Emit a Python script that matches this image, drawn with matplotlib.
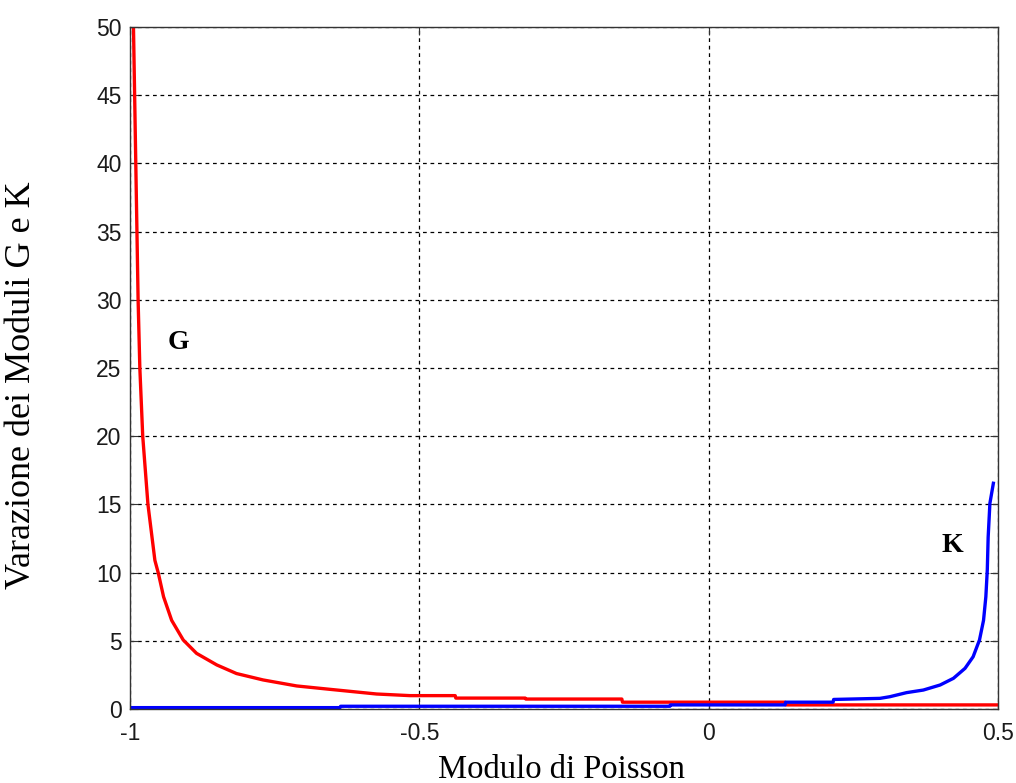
import matplotlib.pyplot as plt

# valori
g_x = [-0.994, -0.992, -0.990, -0.988, -0.986, -0.983, -0.978, -0.969, -0.957, -0.951,
       -0.942, -0.928, -0.908, -0.885, -0.850, -0.816, -0.770, -0.712, -0.654, -0.574,
       -0.516, -0.438, -0.437, -0.317, -0.316, -0.150, -0.149, 0.132, 0.133, 0.50]
g_y = [50, 45, 40, 35, 30, 25, 20, 15, 10.9, 9.95,
       8.23, 6.5, 5.06, 4.08, 3.23, 2.6, 2.13, 1.69, 1.44, 1.1,
       0.98, 0.98, 0.8, 0.8, 0.73, 0.73, 0.5, 0.5, 0.3, 0.3]

k_x = [-1.0, -0.637, -0.636, -0.067, -0.066, 0.132, 0.133, 0.215, 0.216, 0.296, 0.313,
       0.342, 0.371, 0.400, 0.423, 0.443, 0.457, 0.468, 0.475, 0.479, 0.4815, 0.483,
       0.486, 0.492]
k_y = [0.1, 0.1, 0.2, 0.2, 0.3, 0.3, 0.5, 0.5, 0.7, 0.78, 0.9,
       1.2, 1.39, 1.76, 2.25, 2.98, 3.83, 5.06, 6.5, 8.23, 10.2, 12.6,
       15.08, 16.55]

x_ticks = [-1, -0.5, 0, 0.5]
x_tick_labels = ['-1', '-0.5', '0', '0.5']
y_ticks = [0, 5, 10, 15, 20, 25, 30, 35, 40, 45, 50]

fig = plt.figure(figsize=(10.16, 7.83), dpi=100)
ax = fig.add_axes([130 / 1016, 74 / 783, 868 / 1016, 682 / 783])

ax.plot(g_x, g_y, color='#ff0000', linewidth=2.4)
ax.plot(k_x, k_y, color='#0000ff', linewidth=2.4)

ax.set_xlim(-1, 0.5)
ax.set_ylim(0, 50)
ax.set_xticks(x_ticks)
ax.set_xticklabels(x_tick_labels)
ax.set_yticks(y_ticks)

ax.grid(True, color='black', linestyle=(0, (3, 3)), linewidth=0.9)
ax.tick_params(direction='in', length=6, top=True, right=True, labelsize=16.5,
               labelcolor='#1a1a1a', colors='#333333')
ax.tick_params(axis='x', pad=9)
ax.tick_params(axis='y', pad=6)
for lab in ax.get_xticklabels() + ax.get_yticklabels():
    lab.set_family('Liberation Sans')
for s in ax.spines.values():
    s.set_color('#333333')
    s.set_linewidth(1.0)

ax.text(-0.917, 26.9, 'G', fontsize=20, fontweight='bold', family='Liberation Serif',
        ha='center', va='center')
ax.text(0.4205, 12.0, 'K', fontsize=20, fontweight='bold', family='Liberation Serif',
        ha='center', va='center')

fig.text(561 / 1016, 5 / 783, 'Modulo di Poisson', fontsize=23.5, family='Liberation Serif',
         ha='center', va='baseline')
fig.text(38 / 1016, 1 - 385 / 783, 'Varazione dei Moduli G e K', fontsize=26,
         family='Liberation Serif', rotation=90, ha='right', va='center')

fig.savefig('out.png', dpi=100)
